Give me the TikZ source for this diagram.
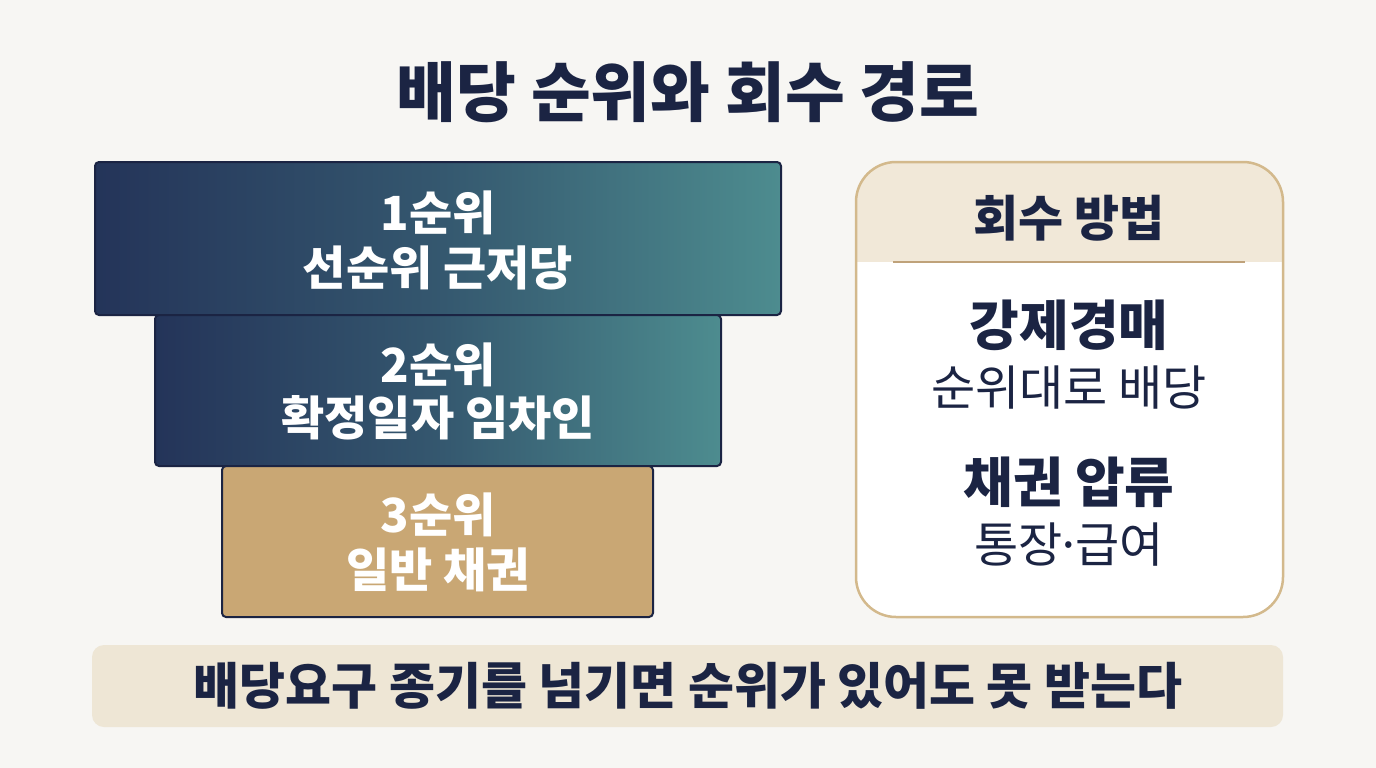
\documentclass[tikz,border=0pt]{standalone}
\usepackage{fontspec}
\setmainfont{Noto Sans CJK KR}
\definecolor{bg}{HTML}{F7F6F3}
\definecolor{navy}{HTML}{1B2443}
\definecolor{navyL}{HTML}{243459}
\definecolor{teal}{HTML}{4D8C8F}
\definecolor{tan}{HTML}{C9A774}
\definecolor{tanB}{HTML}{D3B98C}
\definecolor{cream}{HTML}{F1E8D8}
\definecolor{bar}{HTML}{EEE6D5}
\definecolor{sep}{HTML}{BFA27A}
\tikzset{
  tier/.style={draw=navy, line width=2pt, rounded corners=4pt, inner sep=0pt},
  gradtier/.style={tier, left color=navyL, right color=teal, shading angle=90, middle color=navyL!60!teal},
  wtxt/.style={inner sep=0pt, text=white, font=\bfseries\fontsize{47}{51}\selectfont},
  dtxt/.style={inner sep=0pt, text=navy, font=\fontsize{48}{52}\selectfont},
  dbold/.style={inner sep=0pt, text=navy, font=\bfseries\fontsize{54}{58}\selectfont},
}
\begin{document}
\begin{tikzpicture}[x=1pt,y=-1pt]
\useasboundingbox (0,0) rectangle (1376,768);
\fill[bg] (0,0) rectangle (1376,768);
% title
\node[inner sep=0pt, text=navy, font=\bfseries\fontsize{65}{69}\selectfont] (title) at (688,92) {배당 순위와 회수 경로};
% tiers
\node[gradtier, minimum width=686pt, minimum height=153pt] (b1) at (438,238.5) {};
\node[gradtier, minimum width=566pt, minimum height=151pt] (b2) at (438,390.5) {};
\node[tier, fill=tan, minimum width=431pt, minimum height=151pt] (b3) at (437.5,541.5) {};
\node[wtxt] (t1a) at (438,213) {1순위};
\node[wtxt] (t1b) at (438,268) {선순위 근저당};
\node[wtxt] (t2a) at (438,365) {2순위};
\node[wtxt] (t2b) at (438,418) {확정일자 임차인};
\node[wtxt] (t3a) at (438,515) {3순위};
\node[wtxt] (t3b) at (438,570) {일반 채권};
% right panel
\begin{scope}
  \clip[rounded corners=40pt] (856,162) rectangle (1283,617);
  \fill[white] (856,162) rectangle (1283,617);
  \fill[cream] (856,162) rectangle (1283,262);
\end{scope}
\draw[tanB, line width=2.5pt, rounded corners=40pt] (856,162) rectangle (1283,617);
\coordinate (sL) at (893,262);
\coordinate (sR) at (1245,262);
\draw[sep, line width=2pt] (sL) -- (sR);
\node[dbold, font=\bfseries\fontsize{49}{53}\selectfont] (hd) at (1069,218) {회수 방법};
\node[dbold] (m1) at (1069,325) {강제경매};
\node[dtxt] (m1s) at (1069,388) {순위대로 배당};
\node[dbold] (m2) at (1069,482) {채권 압류};
\node[dtxt] (m2s) at (1069,545) {통장\kern-7pt·\kern-7pt급여};
% bottom bar
\fill[bar, rounded corners=12pt] (92,645) rectangle (1283,727);
\node[inner sep=0pt, text=navy, font=\bfseries\fontsize{50}{54}\selectfont] (note) at (688,686) {배당요구 종기를 넘기면 순위가 있어도 못 받는다};
\end{tikzpicture}
\end{document}
